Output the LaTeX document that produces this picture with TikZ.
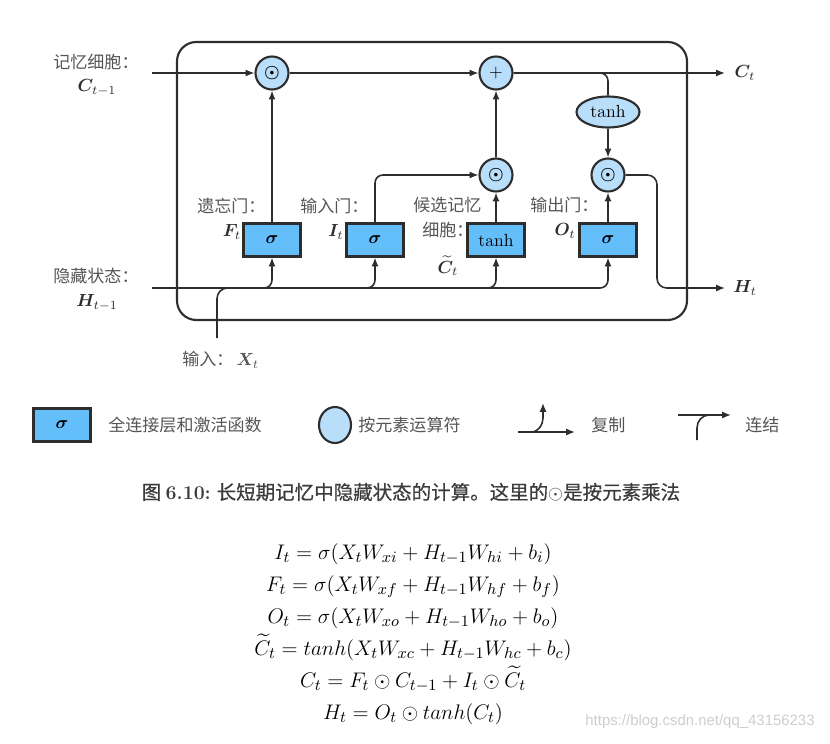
\documentclass[tikz,border=0pt]{standalone}
\usepackage{fontspec}
\usepackage{amsmath,amssymb,bm}
\usetikzlibrary{arrows.meta, positioning, calc, shapes.geometric}
\newfontfamily\cjk{Noto Sans CJK SC}
\newfontfamily\capfont[FakeBold=0.6]{Noto Sans CJK SC}
\newfontfamily\wmfont{Liberation Sans}
\definecolor{linegray}{RGB}{45, 45, 45}
\definecolor{labelgray}{RGB}{85, 85, 85}
\definecolor{capgray}{RGB}{60, 60, 60}
\definecolor{gateblue}{RGB}{99, 190, 250}
\definecolor{opblue}{RGB}{185, 222, 250}
\definecolor{wmgray}{RGB}{205, 205, 205}
\tikzset{
  wire/.style={line width=0.9pt, draw=linegray},
  flow/.style={wire, -{Latex[length=5pt,width=4pt]}},
  gatebox/.style={draw=linegray, fill=gateblue, line width=1.2pt, minimum width=1.14cm, minimum height=0.66cm, inner sep=0pt},
  opcirc/.style={circle, draw=linegray, fill=opblue, line width=1.2pt, minimum size=0.66cm, inner sep=0pt},
  actell/.style={ellipse, draw=linegray, fill=opblue, line width=1.2pt, minimum width=1.26cm, minimum height=0.62cm, inner sep=0pt},
  cnlbl/.style={text=labelgray, inner sep=0pt, font=\cjk\fontsize{9.7}{12}\selectfont},
  mathlbl/.style={text=linegray, inner sep=0pt, font=\fontsize{10}{12}\selectfont},
  eqn/.style={inner sep=0pt, align=center, font=\fontsize{13}{18.2}\selectfont},
}

\begin{document}
\begin{tikzpicture}[x=0.02cm, y=-0.02cm]
    \useasboundingbox (0,0) rectangle (830,743);

    % Cell frame
    \draw[line width=1.2pt, draw=linegray, rounded corners=11pt] (177,42) rectangle (687,320);

    % Operators
    \node[opcirc] (fmul) at (272,73) {$\bm{\odot}$};
    \node[opcirc] (cadd) at (496,73) {$+$};
    \node[actell] (ctanh) at (608,112) {tanh};
    \node[opcirc] (imul) at (496,175) {$\bm{\odot}$};
    \node[opcirc] (omul) at (608,175) {$\bm{\odot}$};

    % Gates
    \node[gatebox] (fgate) at (272,240) {$\bm{\sigma}$};
    \node[gatebox] (igate) at (375,240) {$\bm{\sigma}$};
    \node[gatebox] (cgate) at (496,240) {tanh};
    \node[gatebox] (ogate) at (608,240) {$\bm{\sigma}$};

    % Free ends
    \coordinate (cin) at (152,73);
    \coordinate (cout) at (725,73);
    \coordinate (hin) at (152,288);
    \coordinate (hout) at (725,288);
    \coordinate (hturn) at (657,288);
    \coordinate (xin) at (217,338);

    % Memory cell path
    \draw[flow] (cin) -- (fmul);
    \draw[flow] (fgate) -- (fmul);
    \draw[flow] (fmul) -- (cadd);
    \draw[flow] (cadd) -- (cout);
    \draw[wire, rounded corners=4.5pt] (cadd.east) -| (ctanh.north);
    \draw[flow] (ctanh) -- (omul);
    \draw[flow, rounded corners=4.5pt] (igate.north) |- (imul.west);
    \draw[flow] (cgate) -- (imul);
    \draw[flow] (imul) -- (cadd);
    \draw[flow] (ogate) -- (omul);
    \draw[flow, rounded corners=5.5pt] (omul.east) -| (hturn) -- (hout);

    % Hidden state and input
    \draw[flow, rounded corners=4.5pt] (hin) -| (fgate.south);
    \draw[flow, rounded corners=4.5pt] (hin) -| (igate.south);
    \draw[flow, rounded corners=4.5pt] (hin) -| (cgate.south);
    \draw[flow, rounded corners=4.5pt] (hin) -| (ogate.south);
    \draw[wire, rounded corners=6pt] (xin) |- (fgate.south |- hin);

    % Labels
    \node[cnlbl, anchor=west] (cprevtxt) at (53,62) {记忆细胞：};
    \node[mathlbl] (cprev) at (97,88) {$\bm{C}_{t-1}$};
    \node[cnlbl, anchor=west] (hprevtxt) at (53,276) {隐藏状态：};
    \node[mathlbl] (hprev) at (97,303) {$\bm{H}_{t-1}$};
    \node[cnlbl, anchor=west] (ftxt) at (197,206) {遗忘门：};
    \node[mathlbl] (flbl) at (232,232) {$\bm{F}_t$};
    \node[cnlbl, anchor=west] (itxt) at (300,206) {输入门：};
    \node[mathlbl] (ilbl) at (336,232) {$\bm{I}_t$};
    \node[cnlbl, anchor=west] (ctxt) at (413,205) {候选记忆};
    \node[cnlbl, anchor=west] (ctxtb) at (422,230) {细胞：};
    \node[mathlbl] (clbl) at (448,266) {$\widetilde{\bm{C}}_t$};
    \node[cnlbl, anchor=west] (otxt) at (530,205) {输出门：};
    \node[mathlbl] (olbl) at (565,231) {$\bm{O}_t$};
    \node[mathlbl] (cnext) at (745,73) {$\bm{C}_t$};
    \node[mathlbl] (hnext) at (745,288) {$\bm{H}_t$};
    \node[cnlbl, anchor=west] (xtxt) at (182,360) {输入：\,{\rmfamily$\bm{X}_t$}};

    % Legend
    \node[gatebox] (lgate) at (62,425) {$\bm{\sigma}$};
    \node[cnlbl, anchor=west] (lgatetxt) at (108,425) {全连接层和激活函数};
    \node[opcirc, ellipse, minimum width=0.64cm, minimum height=0.72cm] (lop) at (335,425) {};
    \node[cnlbl, anchor=west] (loptxt) at (358,425) {按元素运算符};
    \coordinate (cpl) at (518,432);
    \coordinate (cpr) at (575,432);
    \coordinate (cpbase) at (531,432);
    \coordinate (cpup) at (543,403);
    \draw[flow] (cpl) -- (cpr);
    \draw[flow] (cpbase) to[out=0,in=-90] ($(cpup)+(0,15)$) -- (cpup);
    \node[cnlbl, anchor=west] (lcopytxt) at (591,425) {复制};
    \coordinate (ctl) at (678,415);
    \coordinate (ctr) at (731,415);
    \coordinate (ctdown) at (697,440);
    \draw[flow] (ctl) -- (ctr);
    \draw[wire] (ctdown) -- ++(0,-12) to[out=90,in=180] ++(12,-13);
    \node[cnlbl, anchor=west] (lcattxt) at (745,425) {连结};

    % Caption
    \node[font=\capfont\fontsize{11.1}{14}\selectfont, text=capgray] (caption) at (411,492) {图 {\rmfamily\bfseries 6.10:} 长短期记忆中隐藏状态的计算。这里的$\odot$是按元素乘法};

    % Equations
    \node[eqn, anchor=north] (eqs) at (413,543) {%
      $I_t = \sigma(X_tW_{xi} + H_{t-1}W_{hi} + b_i)$\\
      $F_t = \sigma(X_tW_{xf} + H_{t-1}W_{hf} + b_f)$\\
      $O_t = \sigma(X_tW_{xo} + H_{t-1}W_{ho} + b_o)$\\
      $\widetilde{C}_t = tanh(X_tW_{xc} + H_{t-1}W_{hc} + b_c)$\\
      $C_t = F_t \odot C_{t-1} + I_t \odot \widetilde{C}_t$\\
      $H_t = O_t \odot tanh(C_t)$};

    % Watermark
    \node[font=\wmfont\fontsize{8.5}{10}\selectfont, text=wmgray] (wm) at (700,722) {https://blog.csdn.net/qq\_43156233};
\end{tikzpicture}
\end{document}
